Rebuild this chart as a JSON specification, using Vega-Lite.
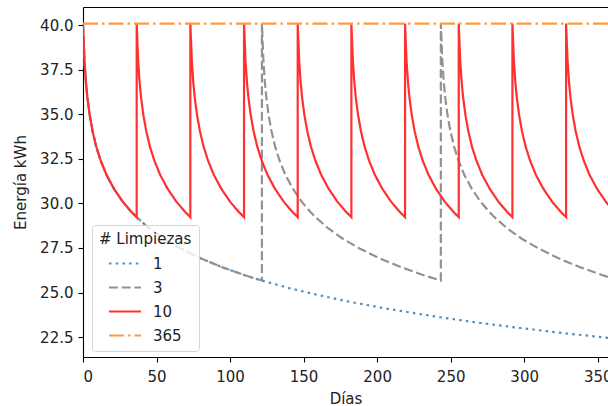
{
  "$schema": "https://vega.github.io/schema/vega-lite/v6.json",
  "width": 525,
  "height": 350,
  "autosize": {"type": "none"},
  "padding": {"left": 83, "top": 7, "right": 0, "bottom": 49},
  "background": "white",
  "config": {
    "view": {"stroke": null},
    "font": "DejaVu Sans",
    "axis": {
      "grid": false,
      "domainColor": "#000000",
      "domainWidth": 1.1,
      "tickColor": "#000000",
      "tickWidth": 1.1,
      "tickSize": 5,
      "labelFontSize": 15,
      "labelColor": "#222222",
      "labelFont": "DejaVu Sans",
      "titleFont": "DejaVu Sans",
      "titleFontSize": 15,
      "titleFontWeight": "normal",
      "titleColor": "#222222"
    },
    "legend": {
      "orient": "none",
      "legendX": 9,
      "legendY": 218,
      "padding": 7,
      "strokeColor": "#d5d5d5",
      "fillColor": "rgba(255,255,255,0.8)",
      "cornerRadius": 3,
      "titleFont": "DejaVu Sans",
      "titleFontSize": 15,
      "titleFontWeight": "normal",
      "titleColor": "#222222",
      "titlePadding": 7,
      "labelFont": "DejaVu Sans",
      "labelFontSize": 15,
      "labelColor": "#222222",
      "labelAlign": "left",
      "symbolType": "M-2,0H2",
      "symbolSize": 256,
      "symbolStrokeWidth": 2.2,
      "symbolOffset": 16.5,
      "labelOffset": 18.5,
      "rowPadding": 6
    }
  },
  "data": {
    "values": [
      {"dia": 0, "kwh": 40.1, "serie": "1", "i": 0},
      {"dia": 1, "kwh": 38.02, "serie": "1", "i": 1},
      {"dia": 2, "kwh": 36.8, "serie": "1", "i": 2},
      {"dia": 3, "kwh": 35.94, "serie": "1", "i": 3},
      {"dia": 4.5, "kwh": 34.99, "serie": "1", "i": 4},
      {"dia": 6.5, "kwh": 34.06, "serie": "1", "i": 5},
      {"dia": 9, "kwh": 33.19, "serie": "1", "i": 6},
      {"dia": 12, "kwh": 32.41, "serie": "1", "i": 7},
      {"dia": 16, "kwh": 31.6, "serie": "1", "i": 8},
      {"dia": 21, "kwh": 30.83, "serie": "1", "i": 9},
      {"dia": 27, "kwh": 30.1, "serie": "1", "i": 10},
      {"dia": 33, "kwh": 29.52, "serie": "1", "i": 11},
      {"dia": 36.5, "kwh": 29.23, "serie": "1", "i": 12},
      {"dia": 45, "kwh": 28.61, "serie": "1", "i": 13},
      {"dia": 55, "kwh": 28.02, "serie": "1", "i": 14},
      {"dia": 66, "kwh": 27.49, "serie": "1", "i": 15},
      {"dia": 80, "kwh": 26.92, "serie": "1", "i": 16},
      {"dia": 95, "kwh": 26.41, "serie": "1", "i": 17},
      {"dia": 110, "kwh": 25.97, "serie": "1", "i": 18},
      {"dia": 121.67, "kwh": 25.67, "serie": "1", "i": 19},
      {"dia": 140, "kwh": 25.25, "serie": "1", "i": 20},
      {"dia": 160, "kwh": 24.86, "serie": "1", "i": 21},
      {"dia": 180, "kwh": 24.5, "serie": "1", "i": 22},
      {"dia": 202, "kwh": 24.16, "serie": "1", "i": 23},
      {"dia": 220, "kwh": 23.91, "serie": "1", "i": 24},
      {"dia": 243, "kwh": 23.61, "serie": "1", "i": 25},
      {"dia": 270, "kwh": 23.29, "serie": "1", "i": 26},
      {"dia": 297, "kwh": 23.01, "serie": "1", "i": 27},
      {"dia": 330, "kwh": 22.69, "serie": "1", "i": 28},
      {"dia": 365, "kwh": 22.39, "serie": "1", "i": 29},

      {"dia": 0, "kwh": 40.1, "serie": "3", "i": 0},
      {"dia": 1, "kwh": 38.02, "serie": "3", "i": 1},
      {"dia": 2, "kwh": 36.8, "serie": "3", "i": 2},
      {"dia": 3, "kwh": 35.94, "serie": "3", "i": 3},
      {"dia": 4.5, "kwh": 34.99, "serie": "3", "i": 4},
      {"dia": 6.5, "kwh": 34.06, "serie": "3", "i": 5},
      {"dia": 9, "kwh": 33.19, "serie": "3", "i": 6},
      {"dia": 12, "kwh": 32.41, "serie": "3", "i": 7},
      {"dia": 16, "kwh": 31.6, "serie": "3", "i": 8},
      {"dia": 21, "kwh": 30.83, "serie": "3", "i": 9},
      {"dia": 27, "kwh": 30.1, "serie": "3", "i": 10},
      {"dia": 33, "kwh": 29.52, "serie": "3", "i": 11},
      {"dia": 36.5, "kwh": 29.23, "serie": "3", "i": 12},
      {"dia": 45, "kwh": 28.61, "serie": "3", "i": 13},
      {"dia": 55, "kwh": 28.02, "serie": "3", "i": 14},
      {"dia": 66, "kwh": 27.49, "serie": "3", "i": 15},
      {"dia": 80, "kwh": 26.92, "serie": "3", "i": 16},
      {"dia": 95, "kwh": 26.41, "serie": "3", "i": 17},
      {"dia": 110, "kwh": 25.97, "serie": "3", "i": 18},
      {"dia": 121.67, "kwh": 25.67, "serie": "3", "i": 19},
      {"dia": 121.67, "kwh": 40.1, "serie": "3", "i": 20},
      {"dia": 122.67, "kwh": 38.02, "serie": "3", "i": 21},
      {"dia": 123.67, "kwh": 36.8, "serie": "3", "i": 22},
      {"dia": 124.67, "kwh": 35.94, "serie": "3", "i": 23},
      {"dia": 126.17, "kwh": 34.99, "serie": "3", "i": 24},
      {"dia": 128.17, "kwh": 34.06, "serie": "3", "i": 25},
      {"dia": 130.67, "kwh": 33.19, "serie": "3", "i": 26},
      {"dia": 133.67, "kwh": 32.41, "serie": "3", "i": 27},
      {"dia": 137.67, "kwh": 31.6, "serie": "3", "i": 28},
      {"dia": 142.67, "kwh": 30.83, "serie": "3", "i": 29},
      {"dia": 148.67, "kwh": 30.1, "serie": "3", "i": 30},
      {"dia": 154.67, "kwh": 29.52, "serie": "3", "i": 31},
      {"dia": 158.17, "kwh": 29.23, "serie": "3", "i": 32},
      {"dia": 166.67, "kwh": 28.61, "serie": "3", "i": 33},
      {"dia": 176.67, "kwh": 28.02, "serie": "3", "i": 34},
      {"dia": 187.67, "kwh": 27.49, "serie": "3", "i": 35},
      {"dia": 201.67, "kwh": 26.92, "serie": "3", "i": 36},
      {"dia": 216.67, "kwh": 26.41, "serie": "3", "i": 37},
      {"dia": 231.67, "kwh": 25.97, "serie": "3", "i": 38},
      {"dia": 243.33, "kwh": 25.67, "serie": "3", "i": 39},
      {"dia": 243.33, "kwh": 40.1, "serie": "3", "i": 40},
      {"dia": 244.33, "kwh": 38.02, "serie": "3", "i": 41},
      {"dia": 245.33, "kwh": 36.8, "serie": "3", "i": 42},
      {"dia": 246.33, "kwh": 35.94, "serie": "3", "i": 43},
      {"dia": 247.83, "kwh": 34.99, "serie": "3", "i": 44},
      {"dia": 249.83, "kwh": 34.06, "serie": "3", "i": 45},
      {"dia": 252.33, "kwh": 33.19, "serie": "3", "i": 46},
      {"dia": 255.33, "kwh": 32.41, "serie": "3", "i": 47},
      {"dia": 259.33, "kwh": 31.6, "serie": "3", "i": 48},
      {"dia": 264.33, "kwh": 30.83, "serie": "3", "i": 49},
      {"dia": 270.33, "kwh": 30.1, "serie": "3", "i": 50},
      {"dia": 276.33, "kwh": 29.52, "serie": "3", "i": 51},
      {"dia": 279.83, "kwh": 29.23, "serie": "3", "i": 52},
      {"dia": 288.33, "kwh": 28.61, "serie": "3", "i": 53},
      {"dia": 298.33, "kwh": 28.02, "serie": "3", "i": 54},
      {"dia": 309.33, "kwh": 27.49, "serie": "3", "i": 55},
      {"dia": 323.33, "kwh": 26.92, "serie": "3", "i": 56},
      {"dia": 338.33, "kwh": 26.41, "serie": "3", "i": 57},
      {"dia": 353.33, "kwh": 25.97, "serie": "3", "i": 58},
      {"dia": 365, "kwh": 25.67, "serie": "3", "i": 59},

      {"dia": 0, "kwh": 40.1, "serie": "10", "i": 0},
      {"dia": 1, "kwh": 38.02, "serie": "10", "i": 1},
      {"dia": 2, "kwh": 36.8, "serie": "10", "i": 2},
      {"dia": 3, "kwh": 35.94, "serie": "10", "i": 3},
      {"dia": 4.5, "kwh": 34.99, "serie": "10", "i": 4},
      {"dia": 6.5, "kwh": 34.06, "serie": "10", "i": 5},
      {"dia": 9, "kwh": 33.19, "serie": "10", "i": 6},
      {"dia": 12, "kwh": 32.41, "serie": "10", "i": 7},
      {"dia": 16, "kwh": 31.6, "serie": "10", "i": 8},
      {"dia": 21, "kwh": 30.83, "serie": "10", "i": 9},
      {"dia": 27, "kwh": 30.1, "serie": "10", "i": 10},
      {"dia": 33, "kwh": 29.52, "serie": "10", "i": 11},
      {"dia": 36.5, "kwh": 29.23, "serie": "10", "i": 12},
      {"dia": 36.5, "kwh": 40.1, "serie": "10", "i": 13},
      {"dia": 37.5, "kwh": 38.02, "serie": "10", "i": 14},
      {"dia": 38.5, "kwh": 36.8, "serie": "10", "i": 15},
      {"dia": 39.5, "kwh": 35.94, "serie": "10", "i": 16},
      {"dia": 41, "kwh": 34.99, "serie": "10", "i": 17},
      {"dia": 43, "kwh": 34.06, "serie": "10", "i": 18},
      {"dia": 45.5, "kwh": 33.19, "serie": "10", "i": 19},
      {"dia": 48.5, "kwh": 32.41, "serie": "10", "i": 20},
      {"dia": 52.5, "kwh": 31.6, "serie": "10", "i": 21},
      {"dia": 57.5, "kwh": 30.83, "serie": "10", "i": 22},
      {"dia": 63.5, "kwh": 30.1, "serie": "10", "i": 23},
      {"dia": 69.5, "kwh": 29.52, "serie": "10", "i": 24},
      {"dia": 73, "kwh": 29.23, "serie": "10", "i": 25},
      {"dia": 73, "kwh": 40.1, "serie": "10", "i": 26},
      {"dia": 74, "kwh": 38.02, "serie": "10", "i": 27},
      {"dia": 75, "kwh": 36.8, "serie": "10", "i": 28},
      {"dia": 76, "kwh": 35.94, "serie": "10", "i": 29},
      {"dia": 77.5, "kwh": 34.99, "serie": "10", "i": 30},
      {"dia": 79.5, "kwh": 34.06, "serie": "10", "i": 31},
      {"dia": 82, "kwh": 33.19, "serie": "10", "i": 32},
      {"dia": 85, "kwh": 32.41, "serie": "10", "i": 33},
      {"dia": 89, "kwh": 31.6, "serie": "10", "i": 34},
      {"dia": 94, "kwh": 30.83, "serie": "10", "i": 35},
      {"dia": 100, "kwh": 30.1, "serie": "10", "i": 36},
      {"dia": 106, "kwh": 29.52, "serie": "10", "i": 37},
      {"dia": 109.5, "kwh": 29.23, "serie": "10", "i": 38},
      {"dia": 109.5, "kwh": 40.1, "serie": "10", "i": 39},
      {"dia": 110.5, "kwh": 38.02, "serie": "10", "i": 40},
      {"dia": 111.5, "kwh": 36.8, "serie": "10", "i": 41},
      {"dia": 112.5, "kwh": 35.94, "serie": "10", "i": 42},
      {"dia": 114, "kwh": 34.99, "serie": "10", "i": 43},
      {"dia": 116, "kwh": 34.06, "serie": "10", "i": 44},
      {"dia": 118.5, "kwh": 33.19, "serie": "10", "i": 45},
      {"dia": 121.5, "kwh": 32.41, "serie": "10", "i": 46},
      {"dia": 125.5, "kwh": 31.6, "serie": "10", "i": 47},
      {"dia": 130.5, "kwh": 30.83, "serie": "10", "i": 48},
      {"dia": 136.5, "kwh": 30.1, "serie": "10", "i": 49},
      {"dia": 142.5, "kwh": 29.52, "serie": "10", "i": 50},
      {"dia": 146, "kwh": 29.23, "serie": "10", "i": 51},
      {"dia": 146, "kwh": 40.1, "serie": "10", "i": 52},
      {"dia": 147, "kwh": 38.02, "serie": "10", "i": 53},
      {"dia": 148, "kwh": 36.8, "serie": "10", "i": 54},
      {"dia": 149, "kwh": 35.94, "serie": "10", "i": 55},
      {"dia": 150.5, "kwh": 34.99, "serie": "10", "i": 56},
      {"dia": 152.5, "kwh": 34.06, "serie": "10", "i": 57},
      {"dia": 155, "kwh": 33.19, "serie": "10", "i": 58},
      {"dia": 158, "kwh": 32.41, "serie": "10", "i": 59},
      {"dia": 162, "kwh": 31.6, "serie": "10", "i": 60},
      {"dia": 167, "kwh": 30.83, "serie": "10", "i": 61},
      {"dia": 173, "kwh": 30.1, "serie": "10", "i": 62},
      {"dia": 179, "kwh": 29.52, "serie": "10", "i": 63},
      {"dia": 182.5, "kwh": 29.23, "serie": "10", "i": 64},
      {"dia": 182.5, "kwh": 40.1, "serie": "10", "i": 65},
      {"dia": 183.5, "kwh": 38.02, "serie": "10", "i": 66},
      {"dia": 184.5, "kwh": 36.8, "serie": "10", "i": 67},
      {"dia": 185.5, "kwh": 35.94, "serie": "10", "i": 68},
      {"dia": 187, "kwh": 34.99, "serie": "10", "i": 69},
      {"dia": 189, "kwh": 34.06, "serie": "10", "i": 70},
      {"dia": 191.5, "kwh": 33.19, "serie": "10", "i": 71},
      {"dia": 194.5, "kwh": 32.41, "serie": "10", "i": 72},
      {"dia": 198.5, "kwh": 31.6, "serie": "10", "i": 73},
      {"dia": 203.5, "kwh": 30.83, "serie": "10", "i": 74},
      {"dia": 209.5, "kwh": 30.1, "serie": "10", "i": 75},
      {"dia": 215.5, "kwh": 29.52, "serie": "10", "i": 76},
      {"dia": 219, "kwh": 29.23, "serie": "10", "i": 77},
      {"dia": 219, "kwh": 40.1, "serie": "10", "i": 78},
      {"dia": 220, "kwh": 38.02, "serie": "10", "i": 79},
      {"dia": 221, "kwh": 36.8, "serie": "10", "i": 80},
      {"dia": 222, "kwh": 35.94, "serie": "10", "i": 81},
      {"dia": 223.5, "kwh": 34.99, "serie": "10", "i": 82},
      {"dia": 225.5, "kwh": 34.06, "serie": "10", "i": 83},
      {"dia": 228, "kwh": 33.19, "serie": "10", "i": 84},
      {"dia": 231, "kwh": 32.41, "serie": "10", "i": 85},
      {"dia": 235, "kwh": 31.6, "serie": "10", "i": 86},
      {"dia": 240, "kwh": 30.83, "serie": "10", "i": 87},
      {"dia": 246, "kwh": 30.1, "serie": "10", "i": 88},
      {"dia": 252, "kwh": 29.52, "serie": "10", "i": 89},
      {"dia": 255.5, "kwh": 29.23, "serie": "10", "i": 90},
      {"dia": 255.5, "kwh": 40.1, "serie": "10", "i": 91},
      {"dia": 256.5, "kwh": 38.02, "serie": "10", "i": 92},
      {"dia": 257.5, "kwh": 36.8, "serie": "10", "i": 93},
      {"dia": 258.5, "kwh": 35.94, "serie": "10", "i": 94},
      {"dia": 260, "kwh": 34.99, "serie": "10", "i": 95},
      {"dia": 262, "kwh": 34.06, "serie": "10", "i": 96},
      {"dia": 264.5, "kwh": 33.19, "serie": "10", "i": 97},
      {"dia": 267.5, "kwh": 32.41, "serie": "10", "i": 98},
      {"dia": 271.5, "kwh": 31.6, "serie": "10", "i": 99},
      {"dia": 276.5, "kwh": 30.83, "serie": "10", "i": 100},
      {"dia": 282.5, "kwh": 30.1, "serie": "10", "i": 101},
      {"dia": 288.5, "kwh": 29.52, "serie": "10", "i": 102},
      {"dia": 292, "kwh": 29.23, "serie": "10", "i": 103},
      {"dia": 292, "kwh": 40.1, "serie": "10", "i": 104},
      {"dia": 293, "kwh": 38.02, "serie": "10", "i": 105},
      {"dia": 294, "kwh": 36.8, "serie": "10", "i": 106},
      {"dia": 295, "kwh": 35.94, "serie": "10", "i": 107},
      {"dia": 296.5, "kwh": 34.99, "serie": "10", "i": 108},
      {"dia": 298.5, "kwh": 34.06, "serie": "10", "i": 109},
      {"dia": 301, "kwh": 33.19, "serie": "10", "i": 110},
      {"dia": 304, "kwh": 32.41, "serie": "10", "i": 111},
      {"dia": 308, "kwh": 31.6, "serie": "10", "i": 112},
      {"dia": 313, "kwh": 30.83, "serie": "10", "i": 113},
      {"dia": 319, "kwh": 30.1, "serie": "10", "i": 114},
      {"dia": 325, "kwh": 29.52, "serie": "10", "i": 115},
      {"dia": 328.5, "kwh": 29.23, "serie": "10", "i": 116},
      {"dia": 328.5, "kwh": 40.1, "serie": "10", "i": 117},
      {"dia": 329.5, "kwh": 38.02, "serie": "10", "i": 118},
      {"dia": 330.5, "kwh": 36.8, "serie": "10", "i": 119},
      {"dia": 331.5, "kwh": 35.94, "serie": "10", "i": 120},
      {"dia": 333, "kwh": 34.99, "serie": "10", "i": 121},
      {"dia": 335, "kwh": 34.06, "serie": "10", "i": 122},
      {"dia": 337.5, "kwh": 33.19, "serie": "10", "i": 123},
      {"dia": 340.5, "kwh": 32.41, "serie": "10", "i": 124},
      {"dia": 344.5, "kwh": 31.6, "serie": "10", "i": 125},
      {"dia": 349.5, "kwh": 30.83, "serie": "10", "i": 126},
      {"dia": 355.5, "kwh": 30.1, "serie": "10", "i": 127},
      {"dia": 361.5, "kwh": 29.52, "serie": "10", "i": 128},
      {"dia": 365, "kwh": 29.23, "serie": "10", "i": 129},

      {"dia": 0, "kwh": 40.1, "serie": "365", "i": 0},
      {"dia": 365, "kwh": 40.1, "serie": "365", "i": 1}
    ]
  },
  "encoding": {
    "y": {
      "field": "kwh",
      "type": "quantitative",
      "scale": {"domain": [21.38, 41.03], "nice": false, "zero": false},
      "axis": {
        "title": "Energía kWh",
        "values": [22.5, 25, 27.5, 30, 32.5, 35, 37.5, 40],
        "format": ".1f",
        "labelPadding": 5,
        "titlePadding": 11
      }
    },
    "color": {
      "field": "serie",
      "type": "nominal",
      "scale": {"domain": ["1", "3", "10", "365"], "range": ["#4c8fc4", "#929292", "#ff3030", "#ff993e"]},
      "legend": {"title": "# Limpiezas"}
    },
    "strokeDash": {
      "field": "serie",
      "type": "nominal",
      "scale": {"domain": ["1", "3", "10", "365"], "range": [[2.5, 4.2], [9, 3.7], [1, 0], [15, 4, 2.5, 4]]},
      "legend": {"title": "# Limpiezas"}
    },
    "order": {"field": "i", "type": "quantitative"}
  },
  "layer": [
    {
      "transform": [{"filter": "datum.serie === '1'"}],
      "mark": {"type": "line", "strokeWidth": 2.2, "clip": true},
      "encoding": {
        "x": {
          "field": "dia",
          "type": "quantitative",
          "scale": {"domain": [0, 357], "nice": false, "zero": false},
          "axis": {
            "title": "Días",
            "values": [0, 50, 100, 150, 200, 250, 300, 350],
            "labelPadding": 7,
            "titlePadding": 7
          }
        }
      }
    },
    {
      "transform": [{"filter": "datum.serie === '3'"}],
      "mark": {"type": "line", "strokeWidth": 2.2, "clip": true},
      "encoding": {
        "x": {"field": "dia", "type": "quantitative", "scale": {"domain": [0, 357], "nice": false, "zero": false}, "axis": null}
      }
    },
    {
      "transform": [{"filter": "datum.serie === '10'"}],
      "mark": {"type": "line", "strokeWidth": 2.2, "clip": true},
      "encoding": {
        "x": {"field": "dia", "type": "quantitative", "scale": {"domain": [0, 357], "nice": false, "zero": false}, "axis": null}
      }
    },
    {
      "transform": [{"filter": "datum.serie === '365'"}],
      "mark": {"type": "line", "strokeWidth": 2.2, "clip": true},
      "encoding": {
        "x": {
          "field": "dia",
          "type": "quantitative",
          "scale": {"domain": [0, 357], "nice": false, "zero": false},
          "axis": {"orient": "top", "labels": false, "ticks": false, "title": null, "domain": true}
        }
      }
    }
  ],
  "resolve": {"axis": {"x": "independent"}}
}
